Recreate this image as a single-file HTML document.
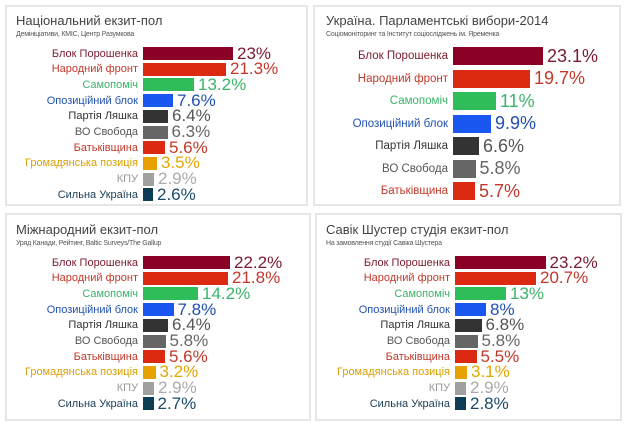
<!DOCTYPE html>
<html><head><meta charset="utf-8"><style>
body{margin:0;width:625px;height:425px;background:#fff;position:relative;overflow:hidden;font-family:"Liberation Sans","DejaVu Sans",sans-serif}
.p{position:absolute;border:2px solid #e6e6e6;box-sizing:border-box}
.t{position:absolute;font-size:13px;color:#444;white-space:nowrap}
.s{position:absolute;font-size:7px;color:#555;white-space:nowrap;letter-spacing:-0.2px}
.r{position:absolute;display:flex;align-items:center;white-space:nowrap}
.r .l{width:133px;text-align:right;font-size:11px;padding-right:5px}
.r .b{display:inline-block}
.r .v{padding-left:4px;font-size:17px}
.big .l{font-size:11.5px}.big .v{font-size:18px}
</style></head><body>
<div class="p" style="left:5px;top:5px;width:303px;height:201px"></div>
<div class="p" style="left:313px;top:5px;width:308px;height:201px"></div>
<div class="p" style="left:5px;top:213px;width:306px;height:208px"></div>
<div class="p" style="left:315px;top:213px;width:307px;height:208px"></div>

<div class="t" style="left:16px;top:13px">Національний екзит-пол</div>
<div class="s" style="left:16px;top:31px">Демініціативи, КМІС, Центр Разумкова</div>
<div class="t" style="left:326px;top:13px">Україна. Парламентські вибори-2014</div>
<div class="s" style="left:326px;top:31px">Соціомоніторинг та Інститут соціосліджень ім. Яременка</div>
<div class="t" style="left:16px;top:222px">Міжнародний екзит-пол</div>
<div class="s" style="left:16px;top:240px">Уряд Канади, Рейтинг, Baltic Surveys/The Gallup</div>
<div class="t" style="left:326px;top:222px">Савік Шустер студія екзит-пол</div>
<div class="s" style="left:326px;top:240px">На замовлення студії Савіка Шустера</div>

<!-- top-left -->
<div class="r" style="left:5px;top:47px;height:13px"><span class="l" style="color:#7a1a2e">Блок Порошенка</span><span class="b" style="width:90px;height:13px;background:#8b0025"></span><span class="v" style="color:#7a1a2e">23%</span></div>
<div class="r" style="left:5px;top:62.7px;height:13px"><span class="l" style="color:#c0392b">Народний фронт</span><span class="b" style="width:83px;height:13px;background:#dc2a12"></span><span class="v" style="color:#c0392b">21.3%</span></div>
<div class="r" style="left:5px;top:78.4px;height:13px"><span class="l" style="color:#3bb36a">Самопоміч</span><span class="b" style="width:51px;height:13px;background:#2ebd59"></span><span class="v" style="color:#3bb36a">13.2%</span></div>
<div class="r" style="left:5px;top:94.1px;height:13px"><span class="l" style="color:#2050b0">Опозиційний блок</span><span class="b" style="width:30px;height:13px;background:#1a56f0"></span><span class="v" style="color:#2050b0">7.6%</span></div>
<div class="r" style="left:5px;top:109.8px;height:13px"><span class="l" style="color:#333">Партія Ляшка</span><span class="b" style="width:25px;height:13px;background:#333"></span><span class="v" style="color:#555">6.4%</span></div>
<div class="r" style="left:5px;top:125.5px;height:13px"><span class="l" style="color:#555">ВО Свобода</span><span class="b" style="width:24.5px;height:13px;background:#666"></span><span class="v" style="color:#666">6.3%</span></div>
<div class="r" style="left:5px;top:141.2px;height:13px"><span class="l" style="color:#c0392b">Батьківщина</span><span class="b" style="width:22px;height:13px;background:#dc2a12"></span><span class="v" style="color:#c0392b">5.6%</span></div>
<div class="r" style="left:5px;top:156.9px;height:13px"><span class="l" style="color:#d9a000">Громадянська позиція</span><span class="b" style="width:14px;height:13px;background:#e8a200"></span><span class="v" style="color:#e0a800">3.5%</span></div>
<div class="r" style="left:5px;top:172.6px;height:13px"><span class="l" style="color:#999">КПУ</span><span class="b" style="width:11px;height:13px;background:#a0a0a0"></span><span class="v" style="color:#aaa">2.9%</span></div>
<div class="r" style="left:5px;top:188.3px;height:13px"><span class="l" style="color:#1a3c55">Сильна Україна</span><span class="b" style="width:10px;height:13px;background:#0d3c55"></span><span class="v" style="color:#1a4a6a">2.6%</span></div>

<!-- top-right -->
<div class="r big" style="left:315px;top:47px;height:18px"><span class="l" style="color:#7a1a2e">Блок Порошенка</span><span class="b" style="width:90px;height:18px;background:#8b0025"></span><span class="v" style="color:#7a1a2e">23.1%</span></div>
<div class="r big" style="left:315px;top:69.5px;height:18px"><span class="l" style="color:#c0392b">Народний фронт</span><span class="b" style="width:77px;height:18px;background:#dc2a12"></span><span class="v" style="color:#c0392b">19.7%</span></div>
<div class="r big" style="left:315px;top:92px;height:18px"><span class="l" style="color:#3bb36a">Самопоміч</span><span class="b" style="width:43px;height:18px;background:#2ebd59"></span><span class="v" style="color:#3bb36a">11%</span></div>
<div class="r big" style="left:315px;top:114.5px;height:18px"><span class="l" style="color:#2050b0">Опозиційний блок</span><span class="b" style="width:38px;height:18px;background:#1a56f0"></span><span class="v" style="color:#2050b0">9.9%</span></div>
<div class="r big" style="left:315px;top:137px;height:18px"><span class="l" style="color:#333">Партія Ляшка</span><span class="b" style="width:26px;height:18px;background:#333"></span><span class="v" style="color:#555">6.6%</span></div>
<div class="r big" style="left:315px;top:159.5px;height:18px"><span class="l" style="color:#555">ВО Свобода</span><span class="b" style="width:22.5px;height:18px;background:#666"></span><span class="v" style="color:#666">5.8%</span></div>
<div class="r big" style="left:315px;top:182px;height:18px"><span class="l" style="color:#c0392b">Батьківщина</span><span class="b" style="width:22px;height:18px;background:#dc2a12"></span><span class="v" style="color:#c0392b">5.7%</span></div>

<!-- bottom-left -->
<div class="r" style="left:5px;top:256px;height:13px"><span class="l" style="color:#7a1a2e">Блок Порошенка</span><span class="b" style="width:87px;height:13px;background:#8b0025"></span><span class="v" style="color:#7a1a2e">22.2%</span></div>
<div class="r" style="left:5px;top:271.7px;height:13px"><span class="l" style="color:#c0392b">Народний фронт</span><span class="b" style="width:85px;height:13px;background:#dc2a12"></span><span class="v" style="color:#c0392b">21.8%</span></div>
<div class="r" style="left:5px;top:287.4px;height:13px"><span class="l" style="color:#3bb36a">Самопоміч</span><span class="b" style="width:55px;height:13px;background:#2ebd59"></span><span class="v" style="color:#3bb36a">14.2%</span></div>
<div class="r" style="left:5px;top:303.1px;height:13px"><span class="l" style="color:#2050b0">Опозиційний блок</span><span class="b" style="width:30.5px;height:13px;background:#1a56f0"></span><span class="v" style="color:#2050b0">7.8%</span></div>
<div class="r" style="left:5px;top:318.8px;height:13px"><span class="l" style="color:#333">Партія Ляшка</span><span class="b" style="width:25px;height:13px;background:#333"></span><span class="v" style="color:#555">6.4%</span></div>
<div class="r" style="left:5px;top:334.5px;height:13px"><span class="l" style="color:#555">ВО Свобода</span><span class="b" style="width:22.5px;height:13px;background:#666"></span><span class="v" style="color:#666">5.8%</span></div>
<div class="r" style="left:5px;top:350.2px;height:13px"><span class="l" style="color:#c0392b">Батьківщина</span><span class="b" style="width:22px;height:13px;background:#dc2a12"></span><span class="v" style="color:#c0392b">5.6%</span></div>
<div class="r" style="left:5px;top:365.9px;height:13px"><span class="l" style="color:#d9a000">Громадянська позиція</span><span class="b" style="width:12.5px;height:13px;background:#e8a200"></span><span class="v" style="color:#e0a800">3.2%</span></div>
<div class="r" style="left:5px;top:381.6px;height:13px"><span class="l" style="color:#999">КПУ</span><span class="b" style="width:11px;height:13px;background:#a0a0a0"></span><span class="v" style="color:#aaa">2.9%</span></div>
<div class="r" style="left:5px;top:397.3px;height:13px"><span class="l" style="color:#1a3c55">Сильна Україна</span><span class="b" style="width:10.5px;height:13px;background:#0d3c55"></span><span class="v" style="color:#1a4a6a">2.7%</span></div>

<!-- bottom-right -->
<div class="r" style="left:317px;top:256px;height:13px"><span class="l" style="color:#7a1a2e">Блок Порошенка</span><span class="b" style="width:90.5px;height:13px;background:#8b0025"></span><span class="v" style="color:#7a1a2e">23.2%</span></div>
<div class="r" style="left:317px;top:271.7px;height:13px"><span class="l" style="color:#c0392b">Народний фронт</span><span class="b" style="width:81px;height:13px;background:#dc2a12"></span><span class="v" style="color:#c0392b">20.7%</span></div>
<div class="r" style="left:317px;top:287.4px;height:13px"><span class="l" style="color:#3bb36a">Самопоміч</span><span class="b" style="width:51px;height:13px;background:#2ebd59"></span><span class="v" style="color:#3bb36a">13%</span></div>
<div class="r" style="left:317px;top:303.1px;height:13px"><span class="l" style="color:#2050b0">Опозиційний блок</span><span class="b" style="width:31px;height:13px;background:#1a56f0"></span><span class="v" style="color:#2050b0">8%</span></div>
<div class="r" style="left:317px;top:318.8px;height:13px"><span class="l" style="color:#333">Партія Ляшка</span><span class="b" style="width:26.5px;height:13px;background:#333"></span><span class="v" style="color:#555">6.8%</span></div>
<div class="r" style="left:317px;top:334.5px;height:13px"><span class="l" style="color:#555">ВО Свобода</span><span class="b" style="width:22.5px;height:13px;background:#666"></span><span class="v" style="color:#666">5.8%</span></div>
<div class="r" style="left:317px;top:350.2px;height:13px"><span class="l" style="color:#c0392b">Батьківщина</span><span class="b" style="width:21.5px;height:13px;background:#dc2a12"></span><span class="v" style="color:#c0392b">5.5%</span></div>
<div class="r" style="left:317px;top:365.9px;height:13px"><span class="l" style="color:#d9a000">Громадянська позиція</span><span class="b" style="width:12px;height:13px;background:#e8a200"></span><span class="v" style="color:#e0a800">3.1%</span></div>
<div class="r" style="left:317px;top:381.6px;height:13px"><span class="l" style="color:#999">КПУ</span><span class="b" style="width:11px;height:13px;background:#a0a0a0"></span><span class="v" style="color:#aaa">2.9%</span></div>
<div class="r" style="left:317px;top:397.3px;height:13px"><span class="l" style="color:#1a3c55">Сильна Україна</span><span class="b" style="width:11px;height:13px;background:#0d3c55"></span><span class="v" style="color:#1a4a6a">2.8%</span></div>
</body></html>
